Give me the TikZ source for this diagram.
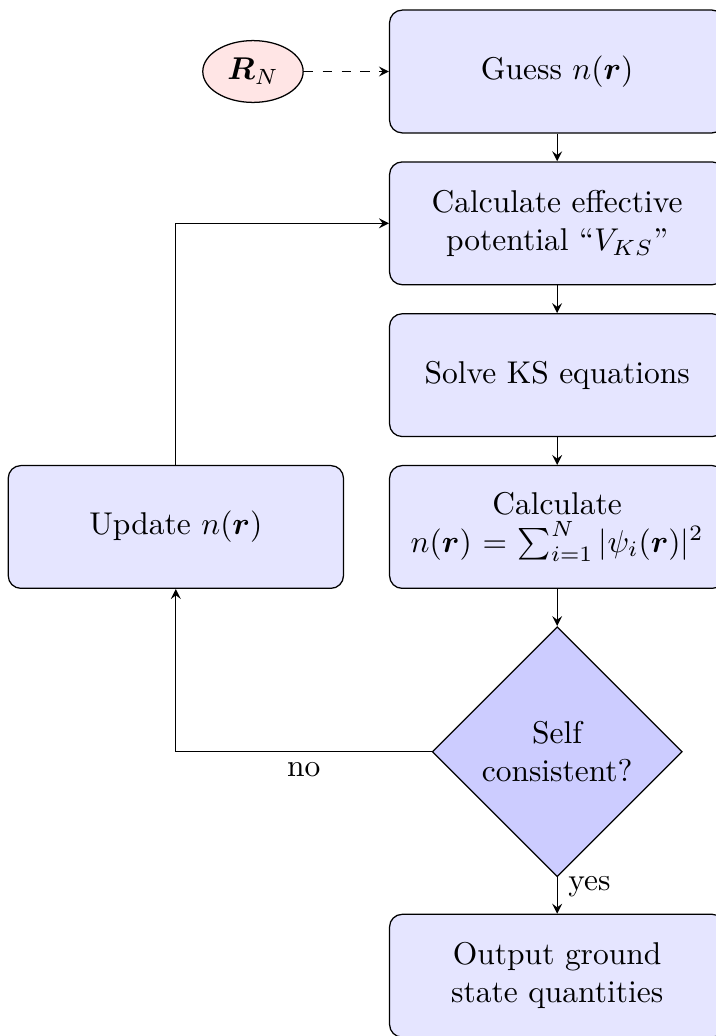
\documentclass[tikz,border=0pt]{standalone}
\usepackage{amsmath,bm}
\usetikzlibrary{shapes,arrows,positioning}

\begin{document}
\begin{tikzpicture}[block/.style={rectangle,draw,fill=blue!10,rounded corners,text width=3.6cm,align=center,minimum width=3.73cm,minimum height=1.37cm,inner sep=2pt},
	decision/.style={diamond,draw,fill=blue!20,align=center,minimum width=2.79cm,minimum height=2.79cm,inner sep=0pt},
	cloud/.style={ellipse,draw,fill=red!10,minimum width=1.12cm,minimum height=0.69cm,inner sep=1pt},
	line/.style={draw,-stealth},
	node distance=0.31cm]
	\useasboundingbox (0,0) rectangle (7.98,-11.56);

	\node[block] (guess) at (6.217,-0.798) {Guess $n(\bm{r})$};
	\node[block,below=of guess] (potential) {Calculate effective\\ potential ``$V_{KS}$''};
	\node[block,below=of potential] (solve) {Solve KS equations};
	\node[block,below=of solve] (density) {Calculate\\ $n(\bm{r})=\sum_{i=1}^N|\psi_i(\bm{r})|^2$};
	\node[decision,below=0.414cm of density] (consistent) {Self\\ consistent?};
	\node[block,below=0.405cm of consistent] (output) {Output ground\\ state quantities};
	\node[block,left=0.5cm of density] (update) {Update $n(\bm{r})$};
	\node[cloud,left=0.95cm of guess] (positions) {$\bm{R}_N$};

	\draw[line,dashed] (positions) -- (guess);
	\draw[line] (guess) -- (potential);
	\draw[line] (potential) -- (solve);
	\draw[line] (solve) -- (density);
	\draw[line] (density) -- (consistent);
	\draw[line] (consistent) -- node[near start,right] {yes} (output);
	\draw[line] (consistent.west) -| node[near start,below] {no} (update.south);
	\draw[line] (update.north) |- (potential.west);
\end{tikzpicture}
\end{document}
